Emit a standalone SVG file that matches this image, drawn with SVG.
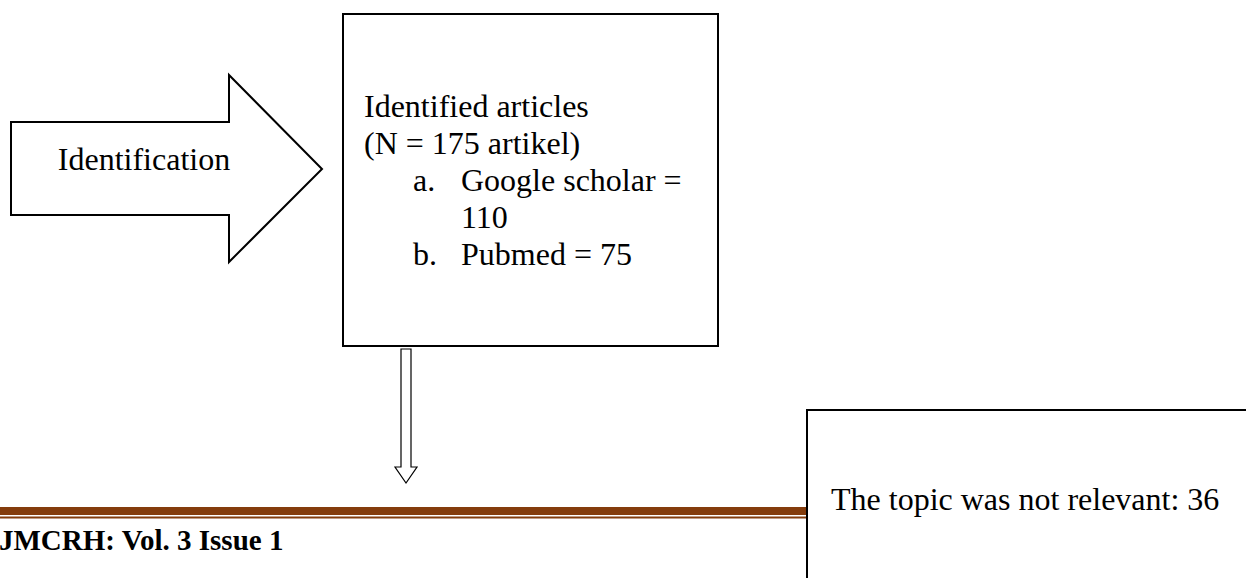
<svg xmlns="http://www.w3.org/2000/svg" width="1246" height="578" viewBox="0 0 1246 578">
<style>
.shape{fill:#fff;stroke:#000;stroke-width:2}
.t{font-family:"Liberation Serif","Times New Roman",serif;font-size:32px;fill:#000}
.foot{font-family:"Liberation Serif","Times New Roman",serif;font-size:29px;font-weight:bold;fill:#000}
</style>
<rect width="1246" height="578" fill="#fff"/>
<g id="header-rule">
<rect x="0" y="507" width="807" height="8" fill="#843C0C"/>
<rect x="0" y="516.5" width="807" height="2" fill="#843C0C"/>
<text class="foot" x="-1" y="550">JMCRH: Vol. 3 Issue 1</text>
</g>
<g id="identification">
<polygon class="shape" points="11,122 229,122 229,75 322,169 229,262 229,215 11,215"/>
<text class="t" x="144" y="170" text-anchor="middle">Identification</text>
</g>
<g id="identified-articles">
<rect class="shape" x="343" y="14" width="375" height="332"/>
<text class="t" x="364" y="117">Identified articles</text>
<text class="t" x="364" y="154">(N = 175 artikel)</text>
<text class="t" x="413" y="191">a.</text>
<text class="t" x="461" y="191">Google scholar =</text>
<text class="t" x="461" y="228">110</text>
<text class="t" x="413" y="265">b.</text>
<text class="t" x="461" y="265">Pubmed = 75</text>
</g>
<g id="connectors">
<polygon fill="#fff" stroke="#000" stroke-width="1.2" points="401,349 411,349 411,467 417,467 406,483 395,467 401,467"/>
</g>
<g id="not-relevant">
<path class="shape" d="M807,580 L807,410 L1248,410 L1248,580"/>
<text class="t" x="831" y="510">The topic was not relevant: 36</text>
</g>
</svg>
